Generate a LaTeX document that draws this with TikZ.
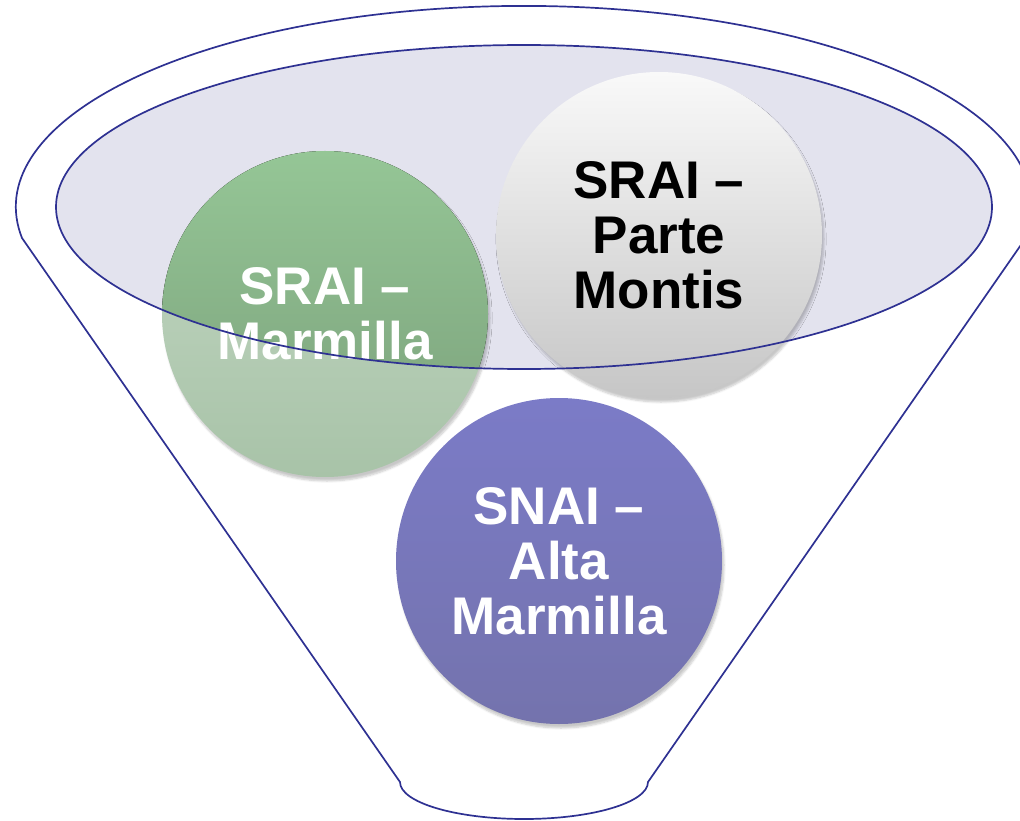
\documentclass[tikz,border=0pt]{standalone}
\usepackage{fontspec}
\setmainfont{Liberation Sans}
\usetikzlibrary{shadows.blur}
\definecolor{fline}{HTML}{2E3192}
\definecolor{lav}{HTML}{E3E3EE}
\definecolor{gOutTop}{HTML}{C4D8C4}
\definecolor{gOutBot}{HTML}{A8C3A8}
\definecolor{gInTop}{HTML}{95C696}
\definecolor{gInBot}{HTML}{7A9F7A}
\definecolor{grTop}{HTML}{F9F9F9}
\definecolor{grBot}{HTML}{C6C6C6}
\definecolor{pTop}{HTML}{7B7BC7}
\definecolor{pBot}{HTML}{7473AD}
\begin{document}
\begin{tikzpicture}[x=1pt,y=-1pt,
  ball/.style={circle, minimum size=326pt, inner sep=0pt,
    blur shadow={shadow xshift=2pt, shadow yshift=-4pt, shadow blur steps=6, shadow opacity=22}},
  label/.style={align=center, font=\bfseries\fontsize{53}{55}\selectfont, inner sep=0pt},
  outline/.style={draw=fline, line width=1.7pt}]
\useasboundingbox (0,0) rectangle (1020,821);
% inner ellipse fill
\coordinate (ec) at (524,207);
\fill[lav] (ec) ellipse [x radius=468pt, y radius=162pt];
% funnel outline
\coordinate (lk) at (22,238);
\coordinate (rb) at (648,782);
\coordinate (lb) at (400,782);
\draw[outline, line join=round] (lk) arc [start angle=188.9, end angle=-8.9, x radius=508pt, y radius=201pt]
  -- (rb) arc [start angle=0, end angle=-180, x radius=124pt, y radius=37pt] -- cycle;
% green ball
\node[ball, top color=gOutTop, bottom color=gOutBot] (green) at (325,314) {};
\begin{scope}
  \clip (ec) ellipse [x radius=468pt, y radius=162pt];
  \fill[top color=gInTop, bottom color=gInBot] (green.center) circle [radius=163pt];
\end{scope}
% gray ball
\node[ball, top color=grTop, bottom color=grBot] (gray) at (659,235) {};
% purple ball
\node[ball, top color=pTop, bottom color=pBot] (purple) at (559,561) {};
% texts
\node[label, text=white] (greentxt) at (green.center) {SRAI –\\Marmilla};
\node[label, text=black] (graytxt) at (gray.center) {SRAI –\\Parte\\Montis};
\node[label, text=white] (purpletxt) at (purple.center) {SNAI –\\Alta\\Marmilla};
% inner ellipse outline on top
\draw[outline] (ec) ellipse [x radius=468pt, y radius=162pt];
\end{tikzpicture}
\end{document}
